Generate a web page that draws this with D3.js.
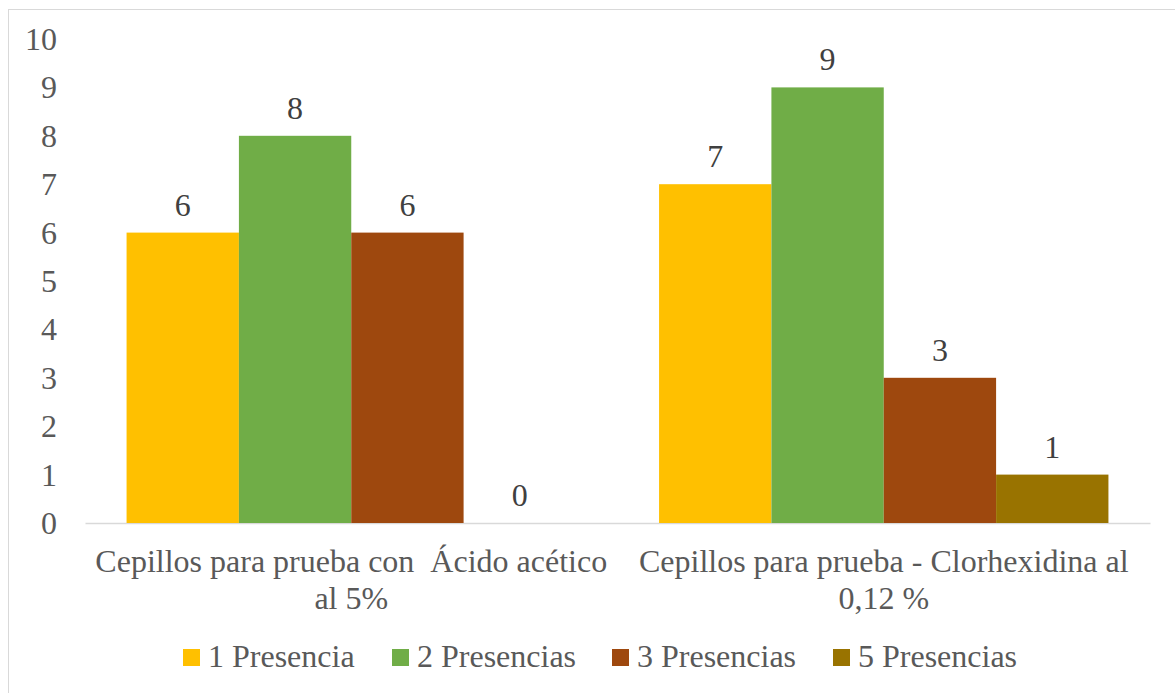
<!DOCTYPE html>
<html><head><meta charset="utf-8">
<script src="https://cdn.jsdelivr.net/npm/d3@7"></script>
</head>
<body style="margin:0;background:#fff"><svg id="c" width="1175" height="693"></svg>
<script>
const FONT = "Liberation Serif";
const FS = 32;
const categories = [["Cepillos para prueba con  Ácido acético","al 5%"],["Cepillos para prueba - Clorhexidina al","0,12 %"]];
const seriesNames = ["1 Presencia","2 Presencias","3 Presencias","5 Presencias"];
const seriesColors = ["#FFC000","#70AD47","#9E480E","#997300"];
const values = [[6,8,6,0],[7,9,3,1]];
const yTicks = [0,1,2,3,4,5,6,7,8,9,10];

const svg = d3.select("#c").attr("font-family",FONT);
svg.append("rect").attr("x",8.5).attr("y",9.5).attr("width",1180).attr("height",700)
  .attr("fill","#fff").attr("stroke","#D9D9D9").attr("stroke-width",1);

const catIdx = categories.map((d,i)=>i);
const x0 = d3.scaleBand().domain(catIdx).range([85,1150]).paddingInner(0).paddingOuter(0);
const x1 = d3.scaleBand().domain(seriesNames).range([0,x0.bandwidth()]).paddingInner(0).paddingOuter(0.37);
const y = d3.scaleLinear().domain([0,10]).range([523,39]);

// y axis labels
const ya = svg.append("g").attr("transform","translate(57,0)")
  .call(d3.axisLeft(y).tickValues(yTicks).tickSize(0).tickPadding(0));
ya.select(".domain").remove();
ya.attr("font-family",FONT).attr("font-size",FS);
ya.selectAll("text").attr("font-family",FONT).attr("font-size",FS).attr("fill","#595959").attr("dy","0.33em");

// x axis line
const xa = svg.append("g").attr("transform","translate(0,523)")
  .call(d3.axisBottom(x0).tickSize(0).tickFormat(""));
xa.select(".domain").attr("stroke","#D9D9D9").attr("stroke-width",1.5);

// bars
const groups = svg.append("g").selectAll("g").data(values).join("g")
  .attr("transform",(d,i)=>`translate(${x0(i)},0)`);
groups.selectAll("rect").data(d=>d.map((v,j)=>({v,s:seriesNames[j],c:seriesColors[j]}))).join("rect")
  .attr("x",d=>x1(d.s)).attr("width",x1.bandwidth())
  .attr("y",d=>y(d.v)).attr("height",d=>y(0)-y(d.v)).attr("fill",d=>d.c);
groups.selectAll("text").data(d=>d.map((v,j)=>({v,s:seriesNames[j]}))).join("text")
  .attr("x",d=>x1(d.s)+x1.bandwidth()/2).attr("y",d=>y(d.v)-17)
  .attr("text-anchor","middle").attr("font-family",FONT).attr("font-size",FS).attr("fill","#404040").text(d=>d.v);

// category labels
const cl = svg.append("g").selectAll("text").data(categories).join("text")
  .attr("x",(d,i)=>x0(i)+x0.bandwidth()/2).attr("y",572)
  .attr("text-anchor","middle").attr("font-family",FONT).attr("font-size",FS).attr("fill","#595959")
  .attr("xml:space","preserve");
cl.selectAll("tspan").data(d=>d).join("tspan")
  .attr("x",function(){return this.parentNode.getAttribute("x");})
  .attr("dy",(d,i)=>i===0?0:36.5).text(d=>d);

// legend
const legX = [183,392,612,833];
const lg = svg.append("g").selectAll("g").data(seriesNames).join("g")
  .attr("transform",(d,i)=>`translate(${legX[i]},649)`);
lg.append("rect").attr("width",17).attr("height",17).attr("fill",(d,i)=>seriesColors[i]);
lg.append("text").attr("x",25).attr("y",18).attr("font-family",FONT).attr("font-size",FS).attr("fill","#595959").text(d=>d);
</script></body></html>
